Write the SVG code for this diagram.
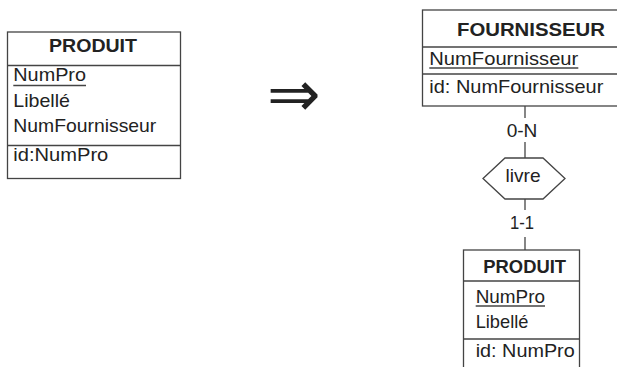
<svg xmlns="http://www.w3.org/2000/svg" width="617" height="367" viewBox="0 0 617 367">
<style>
.box{fill:#fff;stroke:#444;stroke-width:1.3}
.ln{stroke:#444;stroke-width:1.3;fill:none}
.t{font-family:"Liberation Sans",Arial,sans-serif;font-size:19px;fill:#222}
.b{font-weight:bold;text-anchor:middle}
.c{text-anchor:middle}
</style>
<rect width="617" height="367" fill="#fff"/>
<g id="produit-left">
<rect class="box" x="7.5" y="32" width="173" height="146.5"/>
<line class="ln" x1="7.5" y1="65.5" x2="180.5" y2="65.5"/>
<line class="ln" x1="7.5" y1="145.5" x2="180.5" y2="145.5"/>
<text class="t b" x="93" y="52" textLength="88" lengthAdjust="spacingAndGlyphs">PRODUIT</text>
<text class="t" x="13.3" y="81" textLength="72.7" lengthAdjust="spacingAndGlyphs">NumPro</text>
<line class="ln" x1="13.3" y1="85.5" x2="86" y2="85.5"/>
<text class="t" x="13.3" y="107" textLength="56.7" lengthAdjust="spacingAndGlyphs">Libellé</text>
<text class="t" x="13.3" y="132" textLength="143" lengthAdjust="spacingAndGlyphs">NumFournisseur</text>
<text class="t" x="13.3" y="161" textLength="95" lengthAdjust="spacingAndGlyphs">id:NumPro</text>
</g>
<g id="arrow">
<text x="294" y="116" font-family="DejaVu Sans,sans-serif" font-size="64" font-weight="200" fill="#222" text-anchor="middle">⇒</text>
</g>
<g id="connectors">
<line class="ln" x1="525" y1="106" x2="525" y2="118"/>
<line class="ln" x1="525" y1="142" x2="525" y2="158"/>
<line class="ln" x1="525" y1="199" x2="525" y2="210"/>
<line class="ln" x1="525" y1="237" x2="525" y2="250"/>
<text class="t c" x="522" y="137" textLength="30.7" lengthAdjust="spacingAndGlyphs">0-N</text>
<text class="t c" x="522" y="229" textLength="24" lengthAdjust="spacingAndGlyphs">1-1</text>
</g>
<g id="fournisseur">
<rect class="box" x="422.5" y="10" width="200" height="96"/>
<line class="ln" x1="422.5" y1="47" x2="622" y2="47"/>
<line class="ln" x1="422.5" y1="74" x2="622" y2="74"/>
<text class="t b" x="531" y="36" textLength="148" lengthAdjust="spacingAndGlyphs">FOURNISSEUR</text>
<text class="t" x="429.3" y="65" textLength="149" lengthAdjust="spacingAndGlyphs">NumFournisseur</text>
<line class="ln" x1="429.3" y1="68" x2="578.3" y2="68"/>
<text class="t" x="429.3" y="93" textLength="174" lengthAdjust="spacingAndGlyphs">id: NumFournisseur</text>
</g>
<g id="livre">
<polygon class="box" points="483,178.5 505,158 543,158 565,178.5 543,199 505,199"/>
<text class="t c" x="523" y="182" textLength="35" lengthAdjust="spacingAndGlyphs">livre</text>
</g>
<g id="produit-right">
<rect class="box" x="463.5" y="250" width="116" height="130"/>
<line class="ln" x1="463.5" y1="281" x2="579.5" y2="281"/>
<line class="ln" x1="463.5" y1="339" x2="579.5" y2="339"/>
<text class="t b" x="524.7" y="273" textLength="82.7" lengthAdjust="spacingAndGlyphs">PRODUIT</text>
<text class="t" x="475.7" y="303" textLength="69.3" lengthAdjust="spacingAndGlyphs">NumPro</text>
<line class="ln" x1="475.7" y1="306" x2="545" y2="306"/>
<text class="t" x="475.7" y="328" textLength="52.7" lengthAdjust="spacingAndGlyphs">Libellé</text>
<text class="t" x="475.7" y="357" textLength="99" lengthAdjust="spacingAndGlyphs">id: NumPro</text>
</g>
</svg>
